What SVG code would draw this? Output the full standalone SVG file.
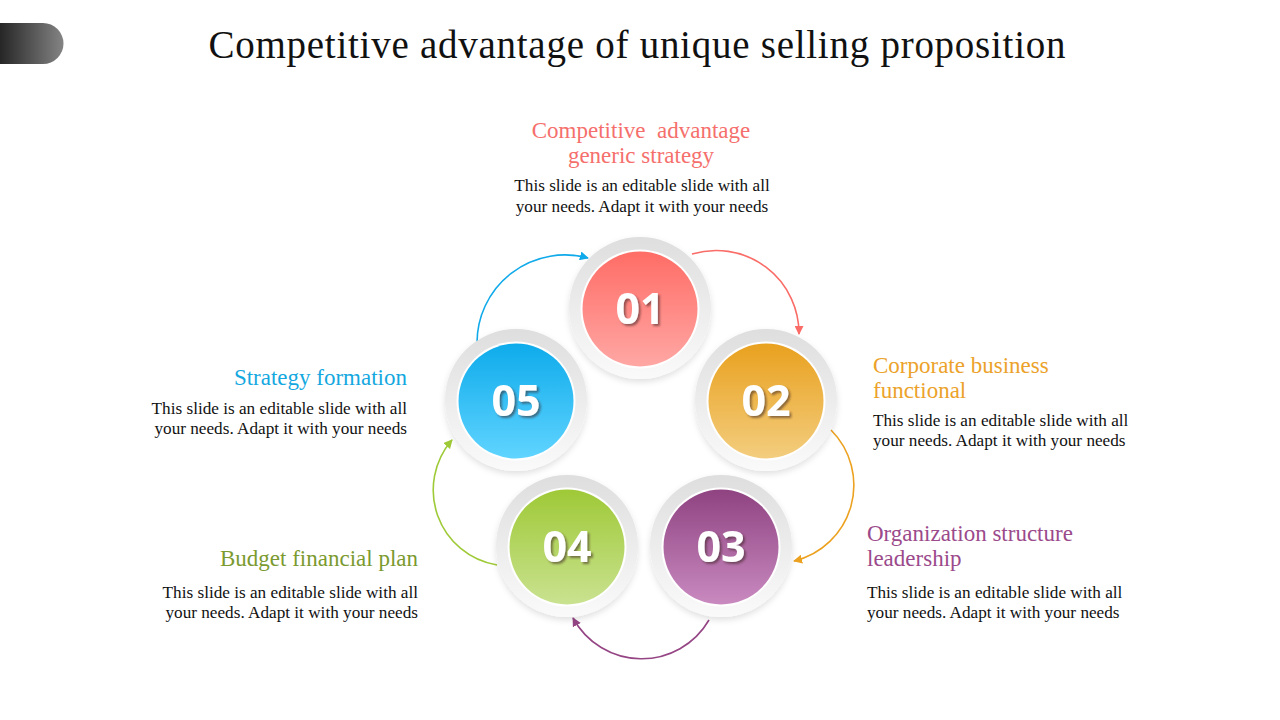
<svg xmlns="http://www.w3.org/2000/svg" width="1280" height="720" viewBox="0 0 1280 720">
<defs>
<linearGradient id="bar" x1="0" y1="0" x2="1" y2="0"><stop offset="0" stop-color="#262626"/><stop offset="1" stop-color="#848484"/></linearGradient>
<linearGradient id="ring" x1="0" y1="0" x2="0" y2="1"><stop offset="0" stop-color="#dedede"/><stop offset="1" stop-color="#fafafa"/></linearGradient>
<linearGradient id="g1" x1="0" y1="0" x2="0" y2="1"><stop offset="0" stop-color="#ff6d66"/><stop offset="1" stop-color="#ffa7a4"/></linearGradient>
<linearGradient id="g2" x1="0" y1="0" x2="0" y2="1"><stop offset="0" stop-color="#e9a11f"/><stop offset="1" stop-color="#f3cd7e"/></linearGradient>
<linearGradient id="g3" x1="0" y1="0" x2="0" y2="1"><stop offset="0" stop-color="#8f4381"/><stop offset="1" stop-color="#c98ac0"/></linearGradient>
<linearGradient id="g4" x1="0" y1="0" x2="0" y2="1"><stop offset="0" stop-color="#9fc937"/><stop offset="1" stop-color="#c9e290"/></linearGradient>
<linearGradient id="g5" x1="0" y1="0" x2="0" y2="1"><stop offset="0" stop-color="#0eabeb"/><stop offset="1" stop-color="#60d4ff"/></linearGradient>
<filter id="sh" x="-20%" y="-20%" width="140%" height="140%"><feDropShadow dx="0" dy="3" stdDeviation="3" flood-color="#000" flood-opacity="0.12"/></filter>
<filter id="tsh" x="-20%" y="-20%" width="140%" height="140%"><feDropShadow dx="2" dy="2" stdDeviation="1" flood-color="#3a2020" flood-opacity="0.55"/></filter>
<marker id="mr" viewBox="0 0 10 10" refX="9" refY="5" markerWidth="9" markerHeight="9" markerUnits="userSpaceOnUse" orient="auto"><path d="M0,0 L10,5 L0,10 z" fill="#fa6c67"/></marker>
<marker id="mo" viewBox="0 0 10 10" refX="9" refY="5" markerWidth="9" markerHeight="9" markerUnits="userSpaceOnUse" orient="auto"><path d="M0,0 L10,5 L0,10 z" fill="#eca11f"/></marker>
<marker id="mp" viewBox="0 0 10 10" refX="9" refY="5" markerWidth="9" markerHeight="9" markerUnits="userSpaceOnUse" orient="auto"><path d="M0,0 L10,5 L0,10 z" fill="#954584"/></marker>
<marker id="mg" viewBox="0 0 10 10" refX="9" refY="5" markerWidth="9" markerHeight="9" markerUnits="userSpaceOnUse" orient="auto"><path d="M0,0 L10,5 L0,10 z" fill="#9fca37"/></marker>
<marker id="mb" viewBox="0 0 10 10" refX="9" refY="5" markerWidth="9" markerHeight="9" markerUnits="userSpaceOnUse" orient="auto"><path d="M0,0 L10,5 L0,10 z" fill="#10aaea"/></marker>
</defs>
<style>
.title{font-family:"Liberation Serif","DejaVu Serif",serif;font-size:39px;fill:#111}
.head{font-family:"Liberation Serif","DejaVu Serif",serif;font-size:23px}
.body{font-family:"Liberation Serif","DejaVu Serif",serif;font-size:17.2px;fill:#111}
.num{font-family:"Open Sans","DejaVu Sans",sans-serif;font-weight:700;font-size:43px;fill:#fff;text-anchor:middle}
.conn path{fill:none;stroke-width:1.6}
</style>
<rect width="1280" height="720" fill="#fff"/>
<path d="M0,23 H43 A20.5,20.5 0 0 1 43,64 H0 Z" fill="url(#bar)"/>
<text class="title" x="637" y="58" text-anchor="middle" textLength="857" lengthAdjust="spacing">Competitive advantage of unique selling proposition</text>

<g class="conn" id="connectors">
<path d="M692,254 A83,83 0 0 1 799,334" stroke="#fa6c67" marker-end="url(#mr)"/>
<path d="M831,430 A78,78 0 0 1 794,561" stroke="#eca11f" marker-end="url(#mo)"/>
<path d="M709,620 A78,78 0 0 1 573,618" stroke="#954584" marker-end="url(#mp)"/>
<path d="M497,565 A76,76 0 0 1 452,440" stroke="#9fca37" marker-end="url(#mg)"/>
<path d="M477,343 A88,88 0 0 1 588,258" stroke="#10aaea" marker-end="url(#mb)"/>
</g>

<g id="node1">
<circle cx="640" cy="308" r="71" fill="url(#ring)" filter="url(#sh)"/>
<circle cx="640" cy="309" r="59.5" fill="#fff"/>
<circle cx="640" cy="309" r="57.5" fill="url(#g1)"/>
<text class="num" x="640" y="324" filter="url(#tsh)">01</text>
<text class="head" x="641" y="138" text-anchor="middle" fill="#f56f6c" xml:space="preserve">Competitive  advantage</text>
<text class="head" x="641" y="163" text-anchor="middle" fill="#f56f6c">generic strategy</text>
<text class="body" x="642" y="191" text-anchor="middle">This slide is an editable slide with all</text>
<text class="body" x="642" y="212" text-anchor="middle">your needs. Adapt it with your needs</text>
</g>

<g id="node2">
<circle cx="766" cy="400" r="71" fill="url(#ring)" filter="url(#sh)"/>
<circle cx="766" cy="401" r="59.5" fill="#fff"/>
<circle cx="766" cy="401" r="57.5" fill="url(#g2)"/>
<text class="num" x="766" y="416" filter="url(#tsh)">02</text>
<text class="head" x="873" y="373" fill="#eca22a">Corporate business</text>
<text class="head" x="873" y="398" fill="#eca22a">functional</text>
<text class="body" x="873" y="426">This slide is an editable slide with all</text>
<text class="body" x="873" y="446">your needs. Adapt it with your needs</text>
</g>

<g id="node3">
<circle cx="721" cy="546" r="71" fill="url(#ring)" filter="url(#sh)"/>
<circle cx="721" cy="547" r="59.5" fill="#fff"/>
<circle cx="721" cy="547" r="57.5" fill="url(#g3)"/>
<text class="num" x="721" y="562" filter="url(#tsh)">03</text>
<text class="head" x="867" y="541" fill="#9b4a8b">Organization structure</text>
<text class="head" x="867" y="566" fill="#9b4a8b">leadership</text>
<text class="body" x="867" y="598">This slide is an editable slide with all</text>
<text class="body" x="867" y="618">your needs. Adapt it with your needs</text>
</g>

<g id="node4">
<circle cx="567" cy="546" r="71" fill="url(#ring)" filter="url(#sh)"/>
<circle cx="567" cy="547" r="59.5" fill="#fff"/>
<circle cx="567" cy="547" r="57.5" fill="url(#g4)"/>
<text class="num" x="567" y="562" filter="url(#tsh)">04</text>
<text class="head" x="418" y="566" text-anchor="end" fill="#7b9a2f">Budget financial plan</text>
<text class="body" x="418" y="598" text-anchor="end">This slide is an editable slide with all</text>
<text class="body" x="418" y="618" text-anchor="end">your needs. Adapt it with your needs</text>
</g>

<g id="node5">
<circle cx="516" cy="400" r="71" fill="url(#ring)" filter="url(#sh)"/>
<circle cx="516" cy="401" r="59.5" fill="#fff"/>
<circle cx="516" cy="401" r="57.5" fill="url(#g5)"/>
<text class="num" x="516" y="416" filter="url(#tsh)">05</text>
<text class="head" x="407" y="385" text-anchor="end" fill="#14a8e0">Strategy formation</text>
<text class="body" x="407" y="414" text-anchor="end">This slide is an editable slide with all</text>
<text class="body" x="407" y="434" text-anchor="end">your needs. Adapt it with your needs</text>
</g>
</svg>
